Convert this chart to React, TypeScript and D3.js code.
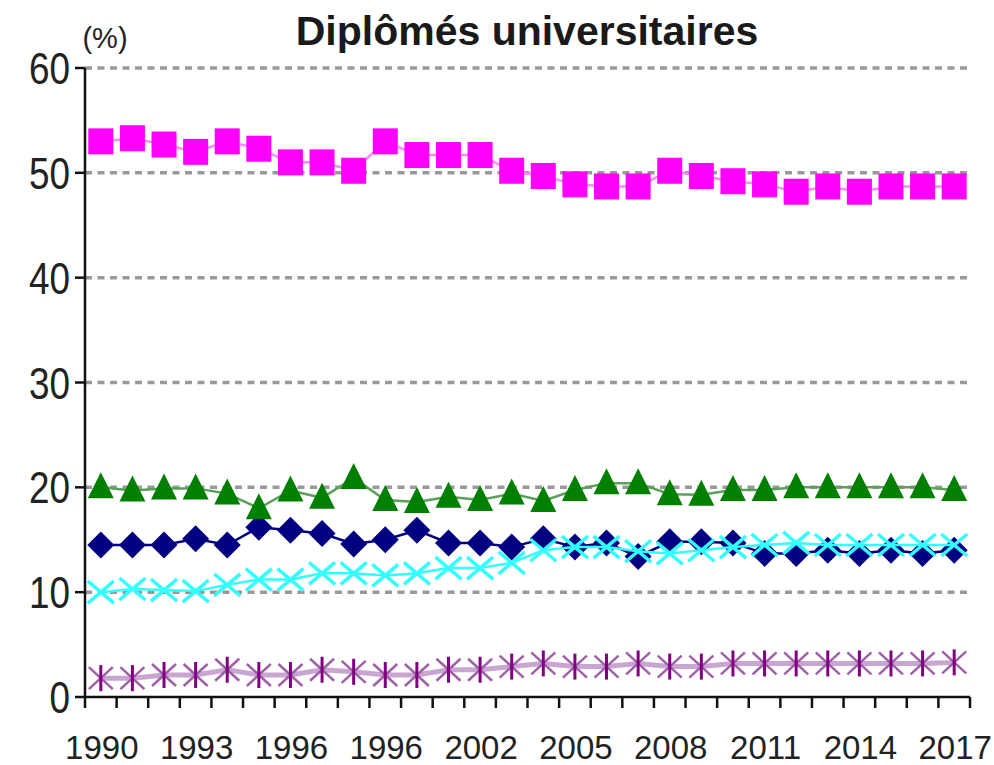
import React from "react";
import * as d3 from "d3";

const years = d3.range(1990, 2018).map(String);
const tickLabels = ["1990", "1993", "1996", "1996", "2002", "2005", "2008", "2011", "2014", "2017"];
const yTicks = [0, 10, 20, 30, 40, 50, 60];

const magentaSeries = [53.0, 53.3, 52.7, 52.0, 53.0, 52.3, 51.0, 51.0, 50.2, 53.0, 51.7, 51.7, 51.7, 50.2, 49.7, 48.9, 48.7, 48.7, 50.2, 49.7, 49.2, 48.9, 48.2, 48.7, 48.2, 48.7, 48.7, 48.7];
const greenSeries = [20.0, 19.7, 19.9, 19.9, 19.4, 18.0, 19.7, 19.0, 20.9, 18.8, 18.6, 19.1, 18.8, 19.4, 18.7, 19.75, 20.4, 20.4, 19.35, 19.3, 19.75, 19.75, 20.0, 20.0, 20.0, 20.0, 20.0, 19.75];
const navySeries = [14.5, 14.5, 14.5, 15.1, 14.5, 16.2, 15.9, 15.6, 14.6, 15.0, 15.9, 14.7, 14.7, 14.3, 15.1, 14.3, 14.7, 13.4, 14.8, 14.8, 14.7, 13.7, 13.7, 14.0, 13.7, 14.0, 13.7, 14.0];
const cyanSeries = [10.0, 10.3, 10.2, 10.1, 10.7, 11.2, 11.2, 11.8, 11.8, 11.6, 11.8, 12.3, 12.3, 12.8, 14.0, 14.3, 14.3, 13.9, 13.7, 14.0, 14.3, 14.5, 14.7, 14.5, 14.5, 14.5, 14.5, 14.5];
const purpleSeries = [1.8, 1.8, 2.1, 2.1, 2.6, 2.1, 2.1, 2.6, 2.4, 2.1, 2.1, 2.6, 2.6, 2.9, 3.2, 2.9, 2.9, 3.2, 2.9, 2.9, 3.2, 3.2, 3.2, 3.2, 3.2, 3.2, 3.2, 3.3];

const W = 994;
const H = 765;
const left = 85;
const right = 970;
const top = 68;
const bottom = 697;

export default function App() {
  const x = d3.scaleBand<string>().domain(years).range([left, right]).padding(0);
  const y = d3.scaleLinear().domain([0, 60]).range([bottom, top]);
  const cx = (i: number) => (x(years[i]) as number) + x.bandwidth() / 2;
  const line = d3
    .line<number>()
    .x((_, i) => cx(i))
    .y((d) => y(d));

  const font = "'Liberation Sans', Arial, sans-serif";
  const s = 13.5;

  return (
    <svg width={W} height={H} style={{ position: "absolute", left: 0, top: 0 }}>
      <rect width={W} height={H} fill="#fff" />
      {yTicks
        .filter((t) => t > 0)
        .map((t) => (
          <line
            key={t}
            x1={left}
            x2={right}
            y1={y(t)}
            y2={y(t)}
            stroke="#999"
            strokeWidth={3.5}
            strokeDasharray="7 5.5"
          />
        ))}
      <line x1={left} x2={left} y1={top} y2={bottom} stroke="#111" strokeWidth={2.5} />
      <line x1={left} x2={right} y1={bottom} y2={bottom} stroke="#111" strokeWidth={2.5} />
      {yTicks.map((t) => (
        <g key={t}>
          <line x1={left - 10} x2={left} y1={y(t)} y2={y(t)} stroke="#111" strokeWidth={2.5} />
          <g transform={`translate(${left - 15},${y(t) + 16}) scale(0.82,1)`}>
            <text textAnchor="end" fontFamily={font} fontSize={45} fill="#222">
              {t}
            </text>
          </g>
        </g>
      ))}
      {years.map((yr) => (
        <line
          key={yr}
          x1={x(yr) as number}
          x2={x(yr) as number}
          y1={bottom}
          y2={bottom + 11}
          stroke="#111"
          strokeWidth={2.5}
        />
      ))}
      <line x1={right} x2={right} y1={bottom} y2={bottom + 11} stroke="#111" strokeWidth={2.5} />
      {tickLabels.map((lab, k) => (
        <text
          key={k}
          x={cx(k * 3) + 1}
          y={759}
          textAnchor="middle"
          fontFamily={font}
          fontSize={33}
          fill="#222"
        >
          {lab}
        </text>
      ))}
      <text x={105} y={48} textAnchor="middle" fontFamily={font} fontSize={29} fill="#222">
        (%)
      </text>
      <text x={527} y={45} textAnchor="middle" fontFamily={font} fontSize={41} fontWeight="bold" fill="#1a1a1a">
        Diplômés universitaires
      </text>

      <path d={line(navySeries) || ""} fill="none" stroke="#000080" strokeWidth={2.5} />
      {navySeries.map((v, i) => (
        <path
          key={i}
          d={`M${cx(i)},${y(v) - s} L${cx(i) + s},${y(v)} L${cx(i)},${y(v) + s} L${cx(i) - s},${y(v)} Z`}
          fill="#000080"
        />
      ))}
      <path d={line(cyanSeries) || ""} fill="none" stroke="#33ffff" strokeWidth={2.5} />
      {cyanSeries.map((v, i) => (
        <g key={i} stroke="#33ffff" strokeWidth={3.5}>
          <line x1={cx(i) - 13} y1={y(v) - 11} x2={cx(i) + 13} y2={y(v) + 11} />
          <line x1={cx(i) - 13} y1={y(v) + 11} x2={cx(i) + 13} y2={y(v) - 11} />
        </g>
      ))}
      <path d={line(greenSeries) || ""} fill="none" stroke="#5aa05a" strokeWidth={2.5} />
      {greenSeries.map((v, i) => (
        <path
          key={i}
          d={`M${cx(i)},${y(v) - 15} L${cx(i) + 13},${y(v) + 11} L${cx(i) - 13},${y(v) + 11} Z`}
          fill="#007f00"
        />
      ))}
      <path d={line(magentaSeries) || ""} fill="none" stroke="#ff88ff" strokeWidth={2.5} />
      {magentaSeries.map((v, i) => (
        <rect key={i} x={cx(i) - 12.5} y={y(v) - 13} width={25} height={26} fill="#ff00ff" />
      ))}
      <path d={line(purpleSeries) || ""} fill="none" stroke="#c9a6d2" strokeWidth={5} />
      {purpleSeries.map((v, i) => (
        <g key={i}>
          <line x1={cx(i) - 12} y1={y(v) - 11} x2={cx(i) + 12} y2={y(v) + 11} stroke="#a060a8" strokeWidth={2.5} />
          <line x1={cx(i) - 12} y1={y(v) + 11} x2={cx(i) + 12} y2={y(v) - 11} stroke="#a060a8" strokeWidth={2.5} />
          <line x1={cx(i)} y1={y(v) - 13} x2={cx(i)} y2={y(v) + 13} stroke="#800080" strokeWidth={3} />
        </g>
      ))}
    </svg>
  );
}
